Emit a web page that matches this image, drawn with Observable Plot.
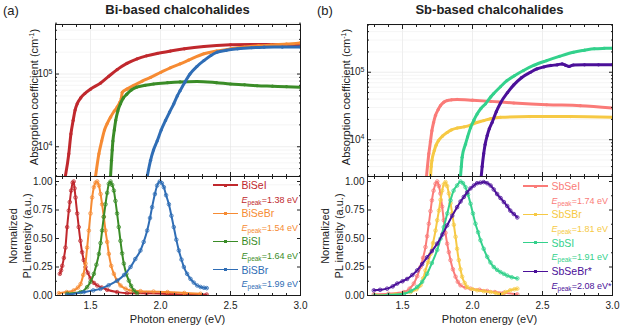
<!DOCTYPE html>
<html><head><meta charset="utf-8">
<script src="https://cdn.jsdelivr.net/npm/d3@7"></script>
<script src="https://cdn.jsdelivr.net/npm/@observablehq/plot@0.6"></script>
<style>
body{margin:0;background:#fff;}
#fig{position:relative;width:622px;height:328px;font-family:"Liberation Sans",Arial,Helvetica,sans-serif;color:#222;overflow:hidden;background:#fff;font-weight:normal}
#fig .p{position:absolute}
#fig .t{position:absolute;white-space:nowrap}
</style></head><body><div id="fig"></div>
<script>
// ---------- data (photon energy eV, value) ----------
const xMajor = [1.5, 2.0, 2.5, 3.0];
const xMinor = [1.3,1.4,1.6,1.7,1.8,1.9,2.1,2.2,2.3,2.4,2.6,2.7,2.8,2.9];
const absMajor = [1e4, 1e5];
const absMinor = [3e3,4e3,5e3,6e3,7e3,8e3,9e3,2e4,3e4,4e4,5e4,6e4,7e4,8e4,9e4,2e5,3e5,4e5,5e5];
const plMajor = [0, 0.25, 0.5, 0.75, 1.0];
const plMinor = [0.125, 0.375, 0.625, 0.875];

const biNames = ["BiSeI", "BiSeBr", "BiSI", "BiSBr"];
const biPeaks = ["1.38 eV", "1.54 eV", "1.64 eV", "1.99 eV"];
const biColors = ["#c0282d", "#f68b33", "#3a8c27", "#2f6db5"];
const sbNames = ["SbSeI", "SbSBr", "SbSI", "SbSeBr*"];
const sbPeaks = ["1.74 eV", "1.81 eV", "1.91 eV", "2.08 eV*"];
const sbColors = ["#fa7b78", "#f6c944", "#33d18c", "#4b1099"];

const absBiSeI = [[1.32,3900],[1.345,8000],[1.36,1.5e4],[1.376,2.3e4],[1.39,3.2e4],[1.405,3.9e4],[1.43,4.7e4],[1.46,5.4e4],[1.5,6.2e4],[1.571,7.5e4],[1.63,9.3e4],[1.69,1.15e5],[1.76,1.4e5],[1.833,1.62e5],[1.9,1.78e5],[1.976,1.92e5],[2.07,2.07e5],[2.17,2.22e5],[2.31,2.39e5],[2.5,2.52e5],[2.65,2.55e5],[2.79,2.54e5],[3.0,2.49e5]];
const absBiSeBr = [[1.536,3900],[1.56,8000],[1.58,1.2e4],[1.6,1.7e4],[1.62,2.1e4],[1.643,2.55e4],[1.67,3.1e4],[1.69,3.5e4],[1.71,4.1e4],[1.72,4.6e4],[1.727,5.6e4],[1.76,6.2e4],[1.81,7.0e4],[1.87,8.0e4],[1.93,9.0e4],[2.0,1.05e5],[2.07,1.22e5],[2.14,1.38e5],[2.2,1.55e5],[2.31,1.9e5],[2.4,2.07e5],[2.5,2.22e5],[2.6,2.35e5],[2.7,2.44e5],[2.79,2.5e5],[2.9,2.58e5],[3.0,2.68e5]];
const absBiSI = [[1.643,3900],[1.65,6500],[1.655,9000],[1.66,1.2e4],[1.67,1.7e4],[1.68,2.3e4],[1.695,3.1e4],[1.714,3.9e4],[1.735,4.7e4],[1.76,5.3e4],[1.79,6.0e4],[1.83,6.6e4],[1.89,7.0e4],[1.95,7.3e4],[2.05,7.6e4],[2.14,7.8e4],[2.26,7.9e4],[2.4,7.6e4],[2.5,7.3e4],[2.6,7.1e4],[2.69,6.9e4],[2.8,6.8e4],[2.9,6.7e4],[3.0,6.6e4]];
const absBiSBr = [[1.905,3900],[1.929,6500],[1.95,9000],[1.976,1.2e4],[2.005,1.7e4],[2.036,2.3e4],[2.065,3.0e4],[2.095,3.9e4],[2.12,5.0e4],[2.14,5.9e4],[2.175,7.8e4],[2.21,1.0e5],[2.26,1.27e5],[2.31,1.53e5],[2.36,1.8e5],[2.405,2.0e5],[2.47,2.12e5],[2.55,2.22e5],[2.65,2.3e5],[2.74,2.34e5],[2.87,2.35e5],[3.0,2.36e5]];

const absSbSeI = [[1.671,2800],[1.688,6200],[1.70,9500],[1.71,1.36e4],[1.722,1.8e4],[1.736,2.3e4],[1.755,2.8e4],[1.771,3.2e4],[1.795,3.6e4],[1.819,3.8e4],[1.85,3.9e4],[1.89,3.95e4],[2.0,3.85e4],[2.13,3.7e4],[2.295,3.5e4],[2.53,3.3e4],[2.77,3.2e4],[3.0,2.95e4]];
const absSbSBr = [[1.70,2800],[1.705,4000],[1.71,4900],[1.727,6900],[1.74,8300],[1.757,9700],[1.785,1.13e4],[1.819,1.28e4],[1.85,1.4e4],[1.89,1.49e4],[1.94,1.55e4],[1.986,1.65e4],[2.03,1.8e4],[2.08,1.92e4],[2.13,2.05e4],[2.2,2.15e4],[2.41,2.2e4],[2.7,2.2e4],[3.0,2.15e4]];
const absSbSI = [[1.914,2800],[1.92,4000],[1.926,5500],[1.95,8600],[1.965,1.1e4],[1.986,1.5e4],[2.01,1.95e4],[2.033,2.4e4],[2.06,2.9e4],[2.093,3.4e4],[2.13,4.3e4],[2.15,4.8e4],[2.2,6.1e4],[2.246,7.5e4],[2.3,8.9e4],[2.364,1.06e5],[2.44,1.27e5],[2.53,1.49e5],[2.62,1.72e5],[2.72,1.98e5],[2.8,2.12e5],[2.87,2.23e5],[2.94,2.26e5],[3.0,2.27e5]];
const absSbSeBr = [[2.062,2800],[2.069,4000],[2.08,6200],[2.09,8500],[2.105,1.15e4],[2.12,1.45e4],[2.14,1.8e4],[2.17,2.6e4],[2.2,3.5e4],[2.25,5.0e4],[2.295,6.5e4],[2.35,8.3e4],[2.414,1.0e5],[2.46,1.12e5],[2.51,1.2e5],[2.56,1.26e5],[2.606,1.29e5],[2.64,1.33e5],[2.665,1.27e5],[2.69,1.22e5],[2.72,1.28e5],[2.8,1.29e5],[2.9,1.29e5],[3.0,1.29e5]];

const plBiSeI = [[1.281,0.19],[1.29,0.22],[1.298,0.26],[1.31,0.33],[1.321,0.42],[1.333,0.6],[1.345,0.745],[1.352,0.82],[1.362,0.92],[1.373,0.99],[1.38,1.0],[1.386,0.94],[1.393,0.86],[1.405,0.72],[1.416,0.6],[1.428,0.48],[1.44,0.38],[1.452,0.31],[1.464,0.25],[1.48,0.2],[1.5,0.15],[1.525,0.11],[1.548,0.088],[1.58,0.07],[1.619,0.05],[1.69,0.03],[1.76,0.02],[1.9,0.02],[2.1,0.012],[2.33,0.008]];
const plBiSeBr = [[1.274,0.02],[1.33,0.03],[1.38,0.044],[1.41,0.07],[1.429,0.1],[1.448,0.18],[1.464,0.28],[1.476,0.42],[1.488,0.57],[1.5,0.72],[1.512,0.86],[1.524,0.95],[1.536,0.99],[1.548,1.0],[1.56,0.965],[1.572,0.89],[1.583,0.8],[1.595,0.69],[1.607,0.57],[1.619,0.47],[1.631,0.365],[1.648,0.26],[1.667,0.19],[1.69,0.13],[1.714,0.088],[1.75,0.06],[1.786,0.044],[1.857,0.038],[1.95,0.034],[2.05,0.03],[2.17,0.022],[2.286,0.015]];
const plBiSI = [[1.333,0.015],[1.43,0.03],[1.476,0.073],[1.5,0.12],[1.524,0.19],[1.542,0.27],[1.56,0.365],[1.572,0.46],[1.583,0.57],[1.595,0.69],[1.607,0.8],[1.619,0.9],[1.631,0.98],[1.643,1.0],[1.655,0.97],[1.667,0.92],[1.678,0.83],[1.69,0.72],[1.702,0.6],[1.714,0.48],[1.726,0.37],[1.738,0.28],[1.756,0.19],[1.774,0.13],[1.79,0.085],[1.81,0.044],[1.833,0.02]];
const plBiSBr = [[1.333,0.005],[1.452,0.03],[1.52,0.045],[1.571,0.058],[1.63,0.09],[1.69,0.13],[1.74,0.18],[1.786,0.25],[1.82,0.32],[1.857,0.395],[1.88,0.47],[1.905,0.57],[1.925,0.68],[1.94,0.775],[1.96,0.89],[1.976,0.965],[1.995,1.0],[2.01,0.985],[2.024,0.95],[2.04,0.88],[2.06,0.8],[2.078,0.7],[2.095,0.6],[2.113,0.49],[2.131,0.395],[2.15,0.315],[2.167,0.25],[2.19,0.19],[2.214,0.146],[2.238,0.113],[2.262,0.088],[2.286,0.075],[2.31,0.068],[2.33,0.065]];

const plSbSeI = [[1.295,0.01],[1.4,0.015],[1.51,0.03],[1.55,0.06],[1.581,0.105],[1.605,0.17],[1.629,0.25],[1.647,0.33],[1.664,0.425],[1.676,0.52],[1.688,0.63],[1.7,0.74],[1.71,0.835],[1.722,0.92],[1.736,0.98],[1.748,1.0],[1.76,0.96],[1.771,0.895],[1.783,0.78],[1.795,0.66],[1.807,0.55],[1.819,0.455],[1.831,0.38],[1.843,0.31],[1.86,0.23],[1.879,0.165],[1.895,0.12],[1.914,0.09],[1.95,0.07],[1.986,0.06],[2.05,0.05],[2.105,0.04],[2.16,0.03],[2.224,0.023],[2.32,0.01]];
const plSbSBr = [[1.31,0.0],[1.45,0.01],[1.557,0.03],[1.6,0.055],[1.629,0.09],[1.648,0.15],[1.664,0.22],[1.682,0.29],[1.7,0.365],[1.718,0.46],[1.736,0.57],[1.748,0.66],[1.76,0.745],[1.772,0.84],[1.783,0.92],[1.795,0.975],[1.807,0.995],[1.819,0.96],[1.831,0.895],[1.843,0.81],[1.855,0.72],[1.867,0.62],[1.879,0.515],[1.89,0.41],[1.902,0.31],[1.914,0.23],[1.926,0.165],[1.944,0.11],[1.962,0.075],[2.0,0.055],[2.033,0.046],[2.08,0.038],[2.129,0.03],[2.17,0.02],[2.2,0.01],[2.235,0.03],[2.27,0.046],[2.3,0.055],[2.32,0.06]];
const plSbSI = [[1.3,0.0],[1.4,0.005],[1.51,0.015],[1.56,0.04],[1.605,0.075],[1.64,0.12],[1.676,0.19],[1.71,0.285],[1.748,0.4],[1.772,0.5],[1.795,0.6],[1.82,0.72],[1.843,0.835],[1.865,0.92],[1.89,0.965],[1.914,1.0],[1.932,0.985],[1.95,0.95],[1.968,0.885],[1.986,0.805],[2.003,0.72],[2.021,0.63],[2.04,0.555],[2.057,0.485],[2.08,0.41],[2.105,0.34],[2.128,0.29],[2.152,0.25],[2.176,0.225],[2.2,0.205],[2.224,0.19],[2.248,0.175],[2.28,0.16],[2.32,0.15]];
const plSbSeBr = [[1.295,0.045],[1.34,0.05],[1.39,0.06],[1.43,0.08],[1.462,0.105],[1.5,0.125],[1.533,0.145],[1.57,0.18],[1.605,0.22],[1.64,0.275],[1.676,0.335],[1.71,0.39],[1.748,0.455],[1.785,0.535],[1.819,0.615],[1.855,0.7],[1.89,0.775],[1.915,0.825],[1.938,0.865],[1.962,0.905],[1.986,0.94],[2.01,0.965],[2.033,0.985],[2.057,0.99],[2.08,0.995],[2.105,0.985],[2.129,0.965],[2.152,0.93],[2.176,0.89],[2.2,0.855],[2.224,0.82],[2.248,0.785],[2.27,0.745],[2.295,0.715],[2.32,0.685]];

// ---------- drawing ----------
const fig = document.getElementById("fig");
const FONT = '"Liberation Sans",Arial,Helvetica,sans-serif';
const X_DOMAIN = [1.25, 3.0];

function frameTicks(yMaj, yMin, yFmt, xLabels) {
  const m = [
    Plot.axisY({anchor:"left", ticks:yMaj, tickSize:0, tickPadding:3, tickFormat:yFmt, label:null}),
    Plot.axisY({anchor:"left", ticks:yMaj, tickSize:4, dx:4, fill:"none", label:null}),
    Plot.axisY({anchor:"left", ticks:yMin, tickSize:2, dx:2, fill:"none", label:null}),
    Plot.axisY({anchor:"right", ticks:yMaj, tickSize:4, dx:-4, fill:"none", label:null}),
    Plot.axisY({anchor:"right", ticks:yMin, tickSize:2, dx:-2, fill:"none", label:null}),
    Plot.axisX({anchor:"bottom", ticks:xMajor, tickSize:4, dy:-4, fill:"none", label:null}),
    Plot.axisX({anchor:"bottom", ticks:xMinor, tickSize:2, dy:-2, fill:"none", label:null}),
    Plot.axisX({anchor:"top", ticks:xMajor, tickSize:4, dy:4, fill:"none", label:null}),
    Plot.axisX({anchor:"top", ticks:xMinor, tickSize:2, dy:2, fill:"none", label:null}),
    Plot.frame({stroke:"#1a1a1a", strokeWidth:1})
  ];
  if (xLabels) m.push(Plot.axisX({anchor:"bottom", ticks:xMajor, tickSize:0, tickPadding:6, tickFormat:d3.format(".1f"), label:null}));
  return m;
}

function place(svg, left, top) {
  const d = document.createElement("div");
  d.className = "p"; d.style.left = left + "px"; d.style.top = top + "px";
  d.append(svg); fig.append(d);
}

function supFix(svg) {
  const ns = "http://www.w3.org/2000/svg";
  svg.querySelectorAll("text").forEach(t => {
    const s = t.textContent;
    if (s.includes("^")) {
      const [b, e] = s.split("^");
      t.textContent = "";
      const t1 = document.createElementNS(ns, "tspan"); t1.textContent = b;
      const t2 = document.createElementNS(ns, "tspan"); t2.textContent = e;
      t2.setAttribute("dy", "-0.5em"); t2.setAttribute("font-size", "7");
      t.append(t1, t2);
    }
  });
}

function absPlot(series, colors, yDomain, left) {
  const marks = [
    Plot.gridX([1.5, 2.0, 2.5], {stroke:"#e2e2e2", strokeOpacity:1, strokeWidth:0.6}),
    Plot.gridY(absMinor, {stroke:"#efefef", strokeOpacity:1, strokeWidth:0.6}),
    Plot.gridY(absMajor, {stroke:"#e2e2e2", strokeOpacity:1, strokeWidth:0.6})
  ];
  series.forEach((s, i) => {
    marks.push(Plot.line(s, {x:d=>d[0], y:d=>d[1], stroke:colors[i], strokeWidth:3, curve:"monotone-x", clip:true}));
    marks.push(Plot.dot(s, {x:d=>d[0], y:d=>d[1], r:1.6, fill:colors[i], clip:true}));
  });
  marks.push(...frameTicks(absMajor, absMinor, d => "10^" + Math.round(Math.log10(d)), false));
  const svg = Plot.plot({
    width:310, height:177, marginLeft:55, marginRight:10, marginTop:24, marginBottom:1,
    style:{fontFamily:FONT, fontSize:"10px", color:"#222", background:"transparent", overflow:"visible"},
    x:{domain:X_DOMAIN}, y:{type:"log", domain:yDomain},
    marks
  });
  supFix(svg);
  place(svg, left, 0);
}

function plPlot(series, colors, left) {
  const marks = [
    Plot.gridX([1.5, 2.0, 2.5], {stroke:"#e8e8e8", strokeOpacity:1, strokeWidth:0.6})
  ];
  series.forEach((s, i) => {
    marks.push(Plot.line(s, {x:d=>d[0], y:d=>d[1], stroke:colors[i], strokeWidth:2, curve:"monotone-x", clip:true}));
    marks.push(Plot.dot(s, {x:d=>d[0], y:d=>d[1], r:1.8, stroke:colors[i], strokeWidth:0.8, fill:"none", clip:true}));
  });
  marks.push(...frameTicks(plMajor, plMinor, d3.format(".2f"), true));
  const svg = Plot.plot({
    width:310, height:152, marginLeft:55, marginRight:10, marginTop:0, marginBottom:33,
    style:{fontFamily:FONT, fontSize:"10px", color:"#222", background:"transparent", overflow:"visible"},
    x:{domain:X_DOMAIN}, y:{domain:[0, 1.044]},
    marks
  });
  place(svg, left, 176);
}

function text(html, cx, cy, size, extra) {
  const d = document.createElement("div");
  d.className = "t";
  d.style.cssText += `left:${cx-120}px;top:${cy-9}px;width:240px;height:18px;line-height:18px;text-align:center;font-size:${size}px;${extra||""}`;
  d.innerHTML = html; fig.append(d);
}
function leftText(html, x, cy, size, color, extra) {
  const d = document.createElement("div");
  d.className = "t";
  d.style.cssText += `left:${x}px;top:${cy-8}px;height:16px;line-height:16px;font-size:${size}px;color:${color};font-weight:normal;${extra||""}`;
  d.innerHTML = html; fig.append(d);
}

function legend(names, peaks, colors, lineLeft, y0, step) {
  names.forEach((n, i) => {
    const y = y0 + i * step;
    const ln = document.createElement("div");
    ln.className = "t";
    ln.style.cssText += `left:${lineLeft}px;top:${y-0.6}px;width:25px;height:1.2px;background:${colors[i]}`;
    fig.append(ln);
    const mk = document.createElement("div");
    mk.className = "t";
    mk.style.cssText += `left:${lineLeft+11}px;top:${y-1.5}px;width:3px;height:3px;background:${colors[i]}`;
    fig.append(mk);
    leftText(n, lineLeft + 28.5, y, 10.5, colors[i]);
    leftText(`<i>E</i><sub style="font-size:6.5px;vertical-align:-2px">peak</sub>=${peaks[i]}`, lineLeft + 28.5, y + 14.5, 9, colors[i]);
  });
}

absPlot([absBiSeI, absBiSeBr, absBiSI, absBiSBr], biColors, [3.9e3, 4.8e5], 0);
plPlot([plBiSeI, plBiSeBr, plBiSI, plBiSBr], biColors, 0);
absPlot([absSbSeI, absSbSBr, absSbSI, absSbSeBr], sbColors, [2.85e3, 5.1e5], 312);
plPlot([plSbSeI, plSbSBr, plSbSI, plSbSeBr], sbColors, 312);

legend(biNames, biPeaks, biColors, 213, 185, 28.2);
legend(sbNames, sbPeaks, sbColors, 523, 186, 28.4);

const absLabel = 'Absorption coefficient (cm<sup style="font-size:7px;vertical-align:4px">-1</sup>)';
[0, 312].forEach((o, k) => {
  text(k === 0 ? "Bi-based chalcohalides" : "Sb-based chalcohalides", 177.5 + o, 10, 13, "font-weight:bold");
  leftText(k === 0 ? "(a)" : "(b)", 3 + o + (k ? 2 : 0), 11, 13, "#222");
  text(absLabel, 31.5 + o, 97, 11, "transform:rotate(-90deg)");
  text("Normalized", 12.5 + o, 236, 11, "transform:rotate(-90deg)");
  text("PL intensity (a.u.)", 26.5 + o, 236, 11, "transform:rotate(-90deg)");
  text("Photon energy (eV)", 177.5 + o, 318.5, 11);
});
</script></body></html>
